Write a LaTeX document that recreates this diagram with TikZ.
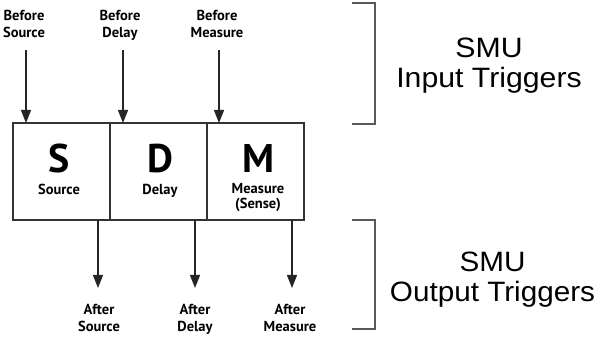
\documentclass[tikz,border=0pt]{standalone}
\usepackage{fontspec}
\setmainfont{PT Sans}
\newfontfamily\arialf{Liberation Sans}
\usetikzlibrary{arrows.meta}
\begin{document}
\begin{tikzpicture}[x=1pt,y=-1pt,
  lbl/.style={font=\fontsize{14.5}{17.5}\selectfont\bfseries, align=center, inner sep=0pt, anchor=base},
  big/.style={font=\fontsize{40}{40}\selectfont\bfseries, inner sep=0pt, anchor=base},
  side/.style={font=\arialf\fontsize{28}{30}\selectfont, align=center, inner sep=0pt, anchor=base},
  cell/.style={draw=black!80, line width=1.3pt, minimum width=97pt, minimum height=97pt, inner sep=0pt, outer sep=0pt},
  trig/.style={draw=black!85, line width=1.3pt, -{Triangle[width=10pt,length=13pt]}},
  brk/.style={draw=black!65, line width=1.5pt}]
\useasboundingbox (0,0) rectangle (598,339);
% cells
\node[cell] (cS) at (61.5,171.5) {};
\node[cell] (cD) at (158.5,171.5) {};
\node[cell] (cM) at (255.5,171.5) {};
\node[big] (S) at (59,173) {S};
\node[big] (D) at (160,173) {D};
\node[big] (M) at (258,173) {M};
\node[lbl] (tS) at (59,195) {Source};
\node[lbl] (tD) at (160,195) {Delay};
\node[lbl, font=\fontsize{14.5}{15.5}\selectfont\bfseries] (tM) at (258,209) {Measure\\(Sense)};
% input labels
\node[lbl] (bS) at (24,38) {Before\\Source};
\node[lbl] (bD) at (120,38) {Before\\Delay};
\node[lbl] (bM) at (217,38) {Before\\Measure};
\coordinate (iS) at (26,50);
\coordinate (iD) at (123,50);
\coordinate (iM) at (219,50);
\draw[trig] (iS) -- (iS |- cS.north);
\draw[trig] (iD) -- (iD |- cD.north);
\draw[trig] (iM) -- (iM |- cM.north);
% output labels
\node[lbl] (aS) at (99,332) {After\\Source};
\node[lbl] (aD) at (195,332) {After\\Delay};
\node[lbl] (aM) at (290,332) {After\\Measure};
\coordinate (oS) at (98,288);
\coordinate (oD) at (195,288);
\coordinate (oM) at (292,288);
\draw[trig] (oS |- cS.south) -- (oS);
\draw[trig] (oD |- cD.south) -- (oD);
\draw[trig] (oM |- cM.south) -- (oM);
% brackets
\coordinate (b1a) at (352,3);
\coordinate (b1b) at (375,3);
\coordinate (b1c) at (375,124);
\coordinate (b1d) at (352,124);
\draw[brk] (b1a) -- (b1b) -- (b1c) -- (b1d);
\coordinate (b2a) at (352,220);
\coordinate (b2b) at (375,220);
\coordinate (b2c) at (375,329);
\coordinate (b2d) at (352,329);
\draw[brk] (b2a) -- (b2b) -- (b2c) -- (b2d);
\node[side] (inT) at (489,88) {\scalebox{1.08}[1]{SMU}\\\scalebox{1.08}[1]{Input Triggers}};
\node[side] (outT) at (492.5,301.5) {\scalebox{1.06}[1]{SMU}\\\scalebox{1.06}[1]{Output Triggers}};
\end{tikzpicture}
\end{document}
